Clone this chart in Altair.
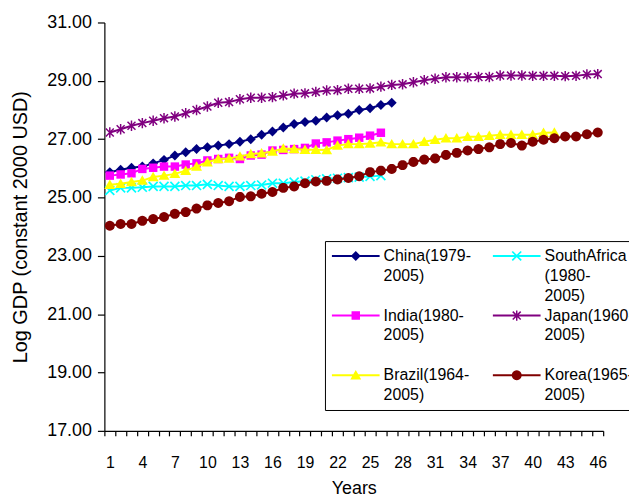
import math
import altair as alt
import pandas as pd

# ---------------- data ----------------
series = ["China(1979-2005)", "India(1980-2005)", "Brazil(1964-2005)",
          "SouthAfrica(1980-2005)", "Japan(1960-2005)", "Korea(1965-2005)"]
# legend label lines (China gets a blank third line so it lines up with SouthAfrica's row)
legend_lines = [["China(1979-", "2005)", ""],
                ["India(1980-", "2005)"],
                ["Brazil(1964-", "2005)"],
                ["SouthAfrica", "(1980-", "2005)"],
                ["Japan(1960-", "2005)"],
                ["Korea(1965-", "2005)"]]
colors = ["#000080", "#FF00FF", "#FFFF00", "#00FFFF", "#800080", "#800000"]

china = [25.87, 25.95, 26.02, 26.06, 26.17, 26.29, 26.44, 26.55, 26.66, 26.72,
         26.78, 26.83, 26.91, 27.00, 27.15, 27.26, 27.40, 27.52, 27.59, 27.63,
         27.74, 27.82, 27.87, 28.00, 28.06, 28.17, 28.25]
india = [25.75, 25.79, 25.83, 25.98, 26.02, 26.06, 26.06, 26.13, 26.17, 26.27,
         26.32, 26.36, 26.32, 26.44, 26.47, 26.61, 26.63, 26.66, 26.70, 26.85,
         26.89, 26.95, 27.00, 27.05, 27.12, 27.22]
brazil = [25.44, 25.47, 25.53, 25.58, 25.70, 25.75, 25.81, 25.92, 26.06, 26.21,
          26.32, 26.34, 26.41, 26.49, 26.52, 26.58, 26.68, 26.66, 26.64, 26.64,
          26.63, 26.78, 26.83, 26.83, 26.85, 26.89, 26.83, 26.83, 26.83, 26.91,
          26.98, 27.03, 27.03, 27.08, 27.08, 27.12, 27.15, 27.15, 27.15, 27.15,
          27.22, 27.23]
south_africa = [25.24, 25.33, 25.33, 25.35, 25.38, 25.38, 25.38, 25.41, 25.41, 25.45,
                25.41, 25.38, 25.38, 25.41, 25.43, 25.49, 25.49, 25.53, 25.56, 25.61,
                25.64, 25.66, 25.68, 25.70, 25.72, 25.75]
japan = [27.23, 27.34, 27.46, 27.55, 27.63, 27.72, 27.78, 27.89, 28.00, 28.12,
         28.25, 28.27, 28.37, 28.42, 28.42, 28.44, 28.50, 28.56, 28.57, 28.62,
         28.67, 28.68, 28.73, 28.73, 28.74, 28.80, 28.86, 28.88, 28.95, 29.02,
         29.07, 29.12, 29.12, 29.12, 29.13, 29.13, 29.18, 29.18, 29.18, 29.17,
         29.17, 29.17, 29.16, 29.17, 29.22, 29.23]
korea = [24.03, 24.09, 24.09, 24.20, 24.26, 24.33, 24.44, 24.50, 24.62, 24.73,
         24.81, 24.87, 25.02, 25.04, 25.13, 25.19, 25.33, 25.38, 25.49, 25.55,
         25.57, 25.62, 25.67, 25.73, 25.87, 25.92, 25.98, 26.11, 26.22, 26.30,
         26.34, 26.46, 26.53, 26.61, 26.66, 26.72, 26.83, 26.87, 26.78, 26.91,
         26.98, 27.03, 27.09, 27.09, 27.17, 27.23]
values = [china, india, brazil, south_africa, japan, korea]
# drawing order of the series (later on top)
draw_order = [0, 3, 1, 4, 2, 5]

y_ticks = [17, 19, 21, 23, 25, 27, 29, 31]
n_years = 46
label_step = 3

rows = []
for name, vals in zip(series, values):
    for i, v in enumerate(vals, start=1):
        rows.append({"series": name, "year": i, "gdp": v})
df = pd.DataFrame(rows)

# ---------------- marker geometry ----------------
def polygon(pts, s=1.0, dx=0.0, dy=0.0):
    return "M" + "L".join(f"{x * s + dx:.4f},{y * s + dy:.4f}" for x, y in pts) + "Z"

def bar(x1, y1, x2, y2, hw):
    L = math.hypot(x2 - x1, y2 - y1)
    ux, uy = (x2 - x1) / L, (y2 - y1) / L
    nx, ny = -uy * hw, ux * hw
    return [(x1 - nx, y1 - ny), (x2 - nx, y2 - ny), (x2 + nx, y2 + ny), (x1 + nx, y1 + ny)]

diamond = [(0, -1.0), (1.0, 0), (0, 1.0), (-1.0, 0)]
square = [(-0.85, -0.85), (0.85, -0.85), (0.85, 0.85), (-0.85, 0.85)]
triangle = [(0, -1.05), (1.1, 0.85), (-1.1, 0.85)]
circle = [(math.cos(2 * math.pi * k / 24), math.sin(2 * math.pi * k / 24)) for k in range(24)]
xcross = [bar(-0.9, -0.9, 0.9, 0.9, 0.17), bar(-0.9, 0.9, 0.9, -0.9, 0.17)]
star = [bar(-0.8, -0.8, 0.8, 0.8, 0.15), bar(-0.8, 0.8, 0.8, -0.8, 0.15), bar(0, -1.05, 0, 1.05, 0.15)]

marker_polys = [[diamond], [square], [triangle], xcross, star, [circle]]

marker_r = 5.0        # px per unit for chart markers
legend_u = 8.0        # px per unit for legend symbols (symbol size 16x16 nominal)
legend_w = 48.0       # drawn legend line length, px
line_height = 20

chart_paths = ["".join(polygon(p) for p in polys) for polys in marker_polys]
legend_paths = []
for polys in marker_polys:
    x0 = -1.0
    x1 = x0 + legend_w / legend_u
    xc = (x0 + x1) / 2
    path = polygon(bar(x0, 0, x1, 0, 1.0 / legend_u))
    path += "".join(polygon(p, s=marker_r / legend_u, dx=xc) for p in polys)
    legend_paths.append(path)

label_expr = ""
for name, lines in zip(series, legend_lines):
    arr = "[" + ",".join("'" + t + "'" for t in lines) + "]"
    label_expr += f"datum.label == '{name}' ? {arr} : "
label_expr += "datum.label"

FONT = "Liberation Sans"

X = alt.X("year:Q",
          scale=alt.Scale(domain=[0.5, n_years + 0.5], nice=False, zero=False),
          axis=alt.Axis(values=[i - 0.5 for i in range(1, n_years + 2)],
                        labelExpr=f"((datum.value - 0.5) % {label_step} == 0) ? format(datum.value + 0.5, 'd') : ''",
                        labelOffset=5.46, labelFlush=False, labelOverlap=False,
                        tickSize=5, labelPadding=19, grid=False, title="Years",
                        titlePadding=9, labelFontSize=16, titleFontSize=18))
Y = alt.Y("gdp:Q",
          scale=alt.Scale(domain=[17, 31], nice=False, zero=False),
          axis=alt.Axis(values=y_ticks, format=".2f", tickSize=7, labelPadding=6,
                        grid=False, title="Log GDP (constant 2000 USD)",
                        titlePadding=16, labelFontSize=18, titleFontSize=20))

base = alt.Chart(df)
layers = []
for idx in draw_order:
    name, color, path = series[idx], colors[idx], chart_paths[idx]
    sub = base.transform_filter(alt.datum.series == name)
    layers.append(sub.mark_line(color=color, strokeWidth=2).encode(x=X, y=Y))
    layers.append(sub.mark_point(shape=path, filled=True, size=marker_r ** 2 * 4,
                                 color=color, opacity=1).encode(x=X, y=Y))

leg = alt.Legend(orient="none", legendX=222, legendY=220, columns=2, title=None,
                 labelExpr=label_expr, labelFont=FONT, labelFontSize=16, labelColor="black",
                 labelBaseline="middle", labelLimit=300,
                 labelOffset=legend_w - 2 * legend_u + 4,
                 symbolSize=(2 * legend_u) ** 2, symbolStrokeWidth=0, symbolOpacity=1,
                 strokeColor="black", fillColor="white", padding=7,
                 rowPadding=4, columnPadding=20, gridAlign="all")

legend_layer = base.transform_filter("false").mark_point(filled=True, opacity=1).encode(
    x=X, y=Y,
    color=alt.Color("series:N", scale=alt.Scale(domain=series, range=colors), legend=leg),
    shape=alt.Shape("series:N", scale=alt.Scale(domain=series, range=legend_paths), legend=leg),
)
layers.append(legend_layer)

chart = alt.layer(*layers).properties(
    width=502, height=411,
    padding={"left": 97, "top": 13, "right": 26, "bottom": 66},
    autosize=alt.AutoSizeParams(type="none"),
).configure(
    font=FONT,
    style={"guide-label": {"lineHeight": line_height}},
).configure_view(stroke=None).configure_axis(
    domainColor="black", tickColor="black", labelColor="black", titleColor="black",
    labelFont=FONT, titleFont=FONT, titleFontWeight="normal", domainWidth=1.2, tickWidth=1.2,
)

chart.save("out.html", embed_options={"renderer": "svg", "actions": False})
